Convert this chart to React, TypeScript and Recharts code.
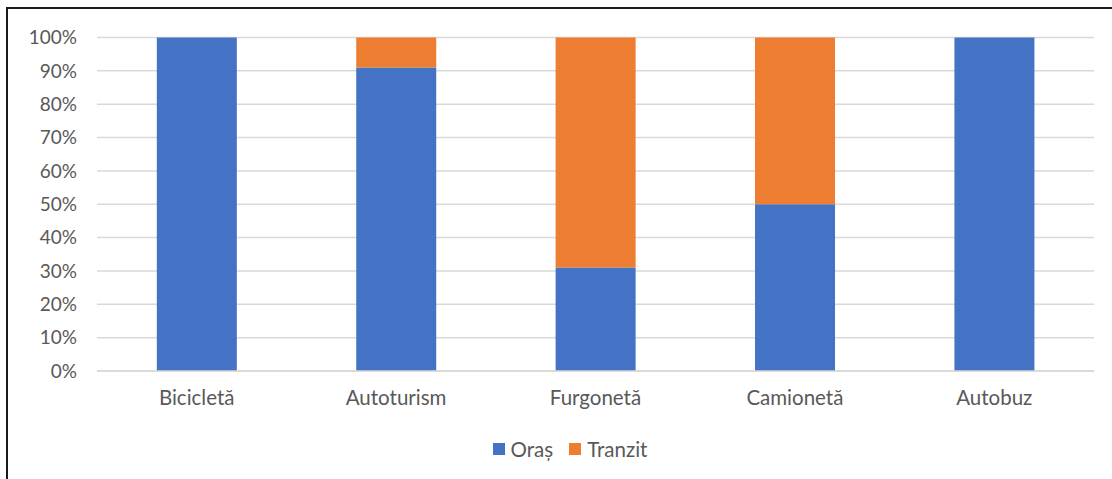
import { BarChart, Bar, XAxis, YAxis, CartesianGrid, Legend } from "recharts";

const categories = ["Bicicletă", "Autoturism", "Furgonetă", "Camionetă", "Autobuz"];
const oras = [100, 91, 31, 50, 100];
const tranzit = [0, 9, 69, 50, 0];
const yTicks = [0, 0.1, 0.2, 0.3, 0.4, 0.5, 0.6, 0.7, 0.8, 0.9, 1];

const data = categories.map((name, i) => ({ name, Oraș: oras[i], Tranzit: tranzit[i] }));

const FONT = "Lato, 'Open Sans', sans-serif";
const TEXT = "#595959";

const renderLegend = (props: any) => {
  const items = props.payload || [];
  return (
    <div style={{ display: "flex", justifyContent: "center", alignItems: "center", fontFamily: FONT, fontSize: 20.5, color: TEXT }}>
      {items.map((it: any, i: number) => (
        <div key={it.value} style={{ display: "flex", alignItems: "center", marginLeft: i ? 16 : 0 }}>
          <span style={{ display: "inline-block", width: 12, height: 12, background: it.color, marginRight: 6 }} />
          <span>{it.value}</span>
        </div>
      ))}
    </div>
  );
};

export default function App() {
  return (
    <div
      style={{
        position: "absolute",
        left: 6,
        top: 7,
        width: 1120,
        height: 480,
        border: "2px solid #1a1a1a",
        background: "#fff",
      }}
    >
      <BarChart
        width={1100}
        height={470}
        data={data}
        stackOffset="expand"
        barCategoryGap="30%"
        margin={{ top: 28.5, right: 14, left: 0, bottom: 68 }}
      >
        <CartesianGrid vertical={false} stroke="#d9d9d9" strokeWidth={1.5} />
        <XAxis
          dataKey="name"
          height={40}
          tickLine={false}
          tickSize={0}
          tickMargin={19}
          axisLine={{ stroke: "#d9d9d9", strokeWidth: 1.5 }}
          tick={{ fill: TEXT, fontSize: 20.5, fontFamily: FONT }}
        />
        <YAxis
          width={89}
          domain={[0, 1]}
          ticks={yTicks}
          tickFormatter={(v: number) => `${Math.round(v * 100)}%`}
          axisLine={false}
          tickLine={false}
          tickSize={0}
          tickMargin={20}
          tick={{ fill: TEXT, fontSize: 19, fontFamily: FONT }}
        />
        <Legend
          verticalAlign="middle"
          content={renderLegend}
          wrapperStyle={{ top: 428, left: 12, width: 1100 }}
        />
        <Bar dataKey="Oraș" stackId="a" fill="#4472C4" isAnimationActive={false} />
        <Bar dataKey="Tranzit" stackId="a" fill="#ED7D31" isAnimationActive={false} />
      </BarChart>
    </div>
  );
}
